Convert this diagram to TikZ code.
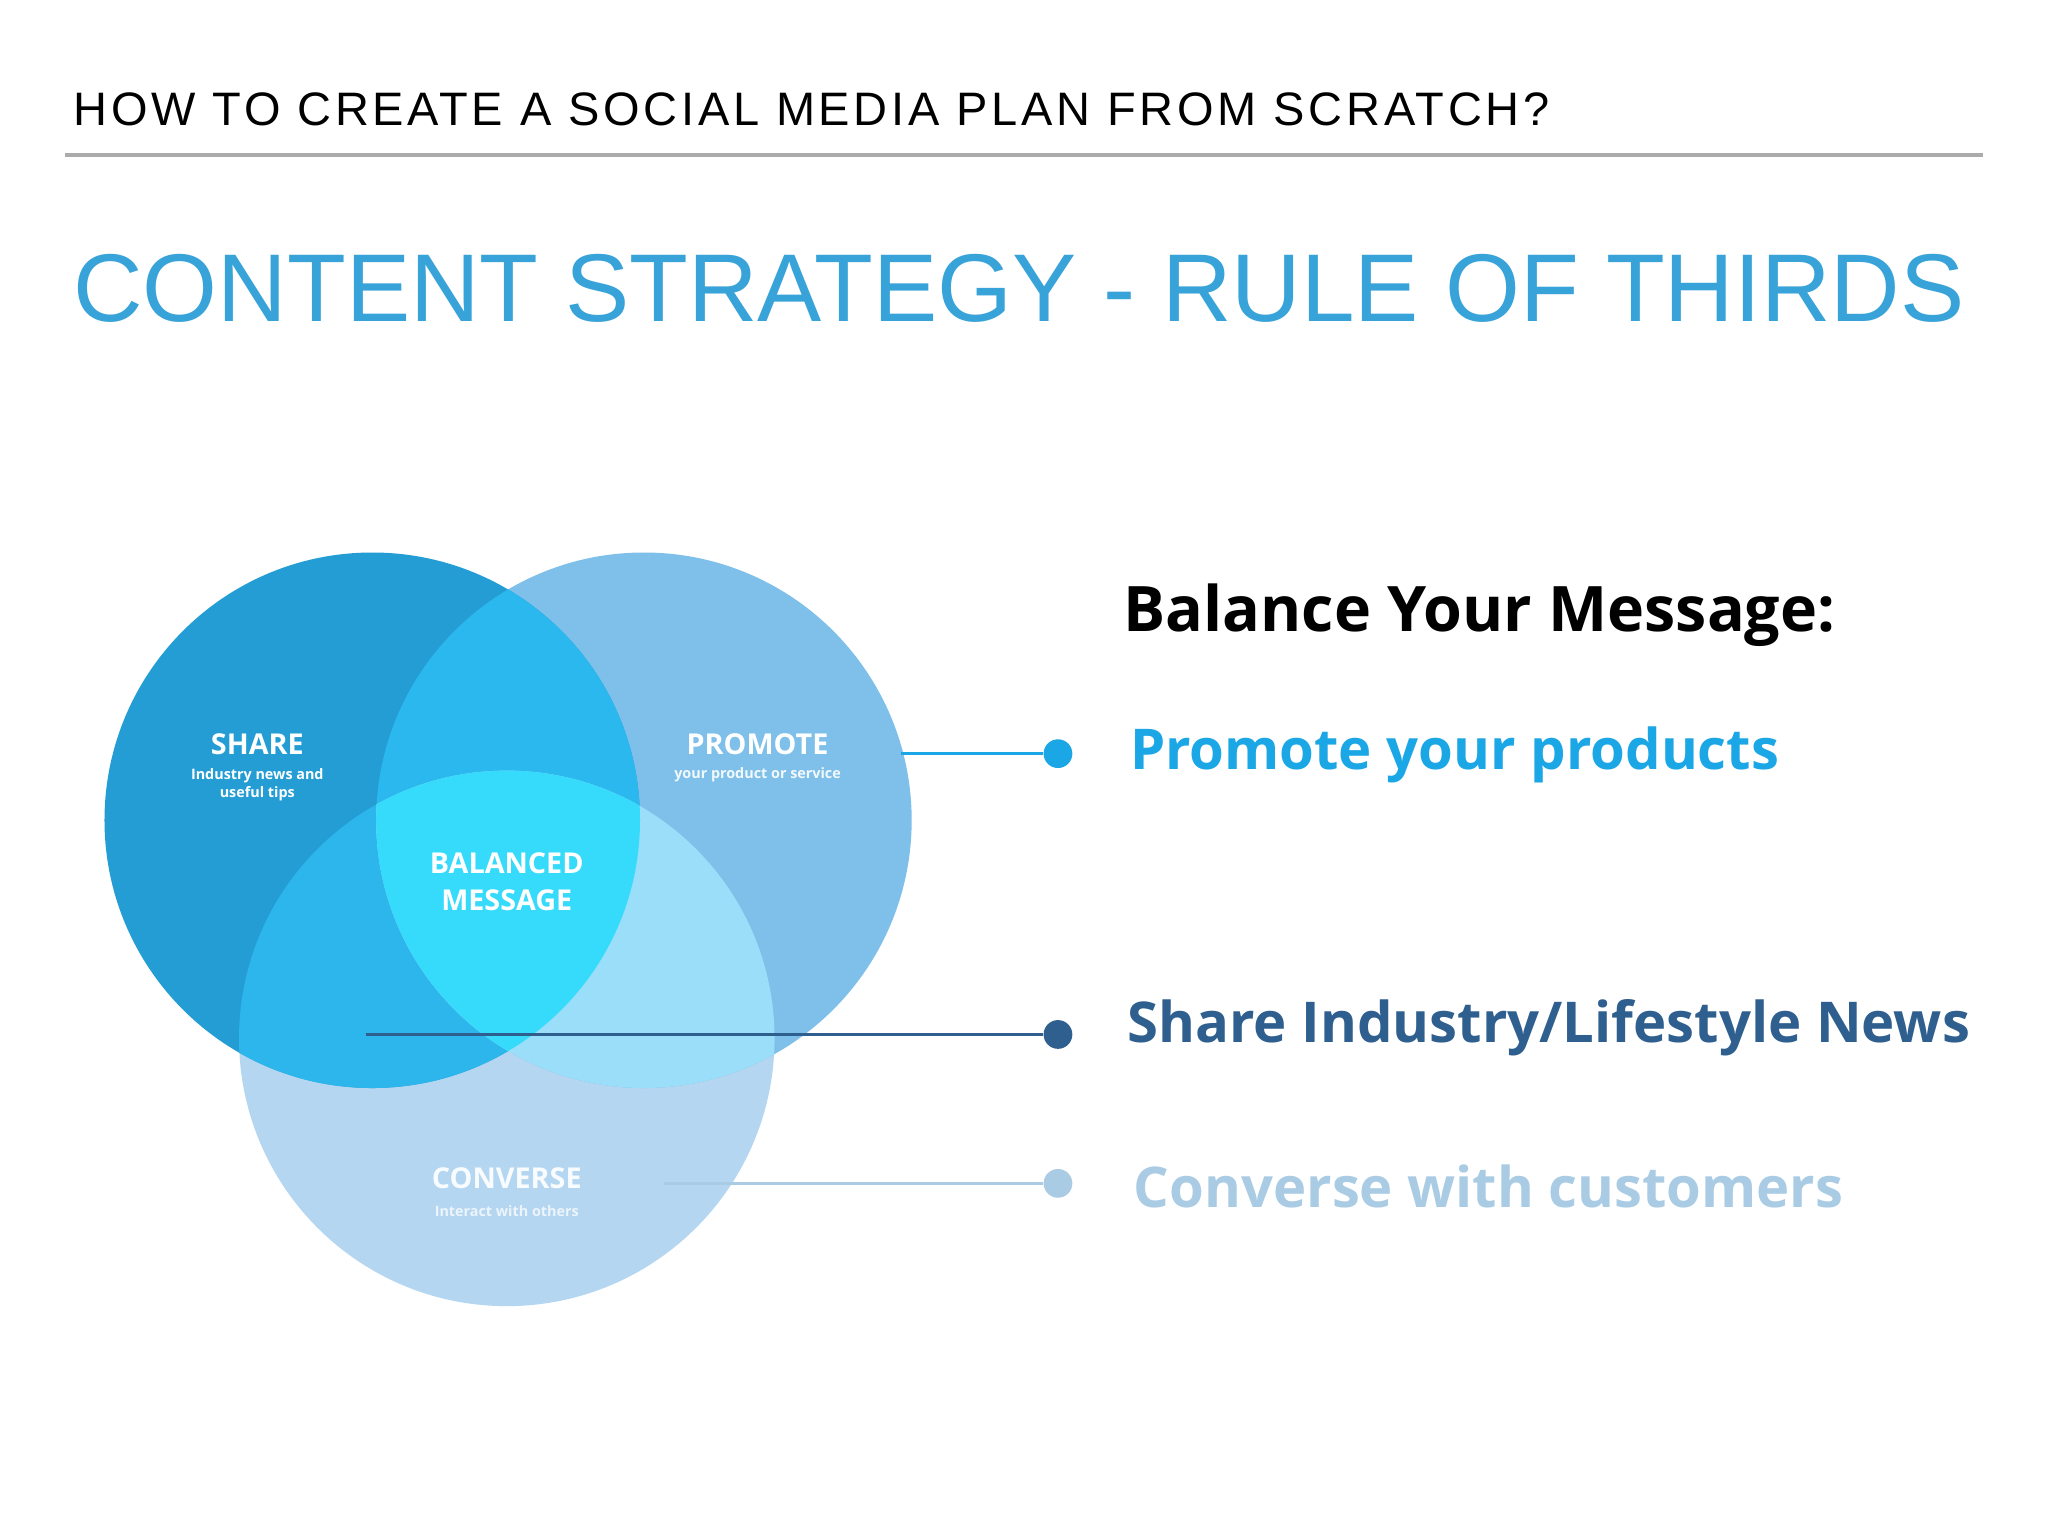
\documentclass[tikz,border=0pt]{standalone}
\usepackage{fontspec}
\setmainfont{Liberation Sans}
\newfontfamily\os{Open Sans}
\definecolor{cshare}{HTML}{249DD5}
\definecolor{cprom}{HTML}{7EC0EA}
\definecolor{cconv}{HTML}{B4D6F1}
\definecolor{csp}{HTML}{2AB8EE}
\definecolor{csc}{HTML}{2CB6EB}
\definecolor{cpc}{HTML}{9ADEF9}
\definecolor{cmid}{HTML}{36DBFB}
\definecolor{ttl}{HTML}{38A3D8}
\definecolor{lprom}{HTML}{1BA6E6}
\definecolor{lshare}{HTML}{2F5F8F}
\definecolor{lconv}{HTML}{A9CBE4}
\tikzset{ctext/.style={text=white,font=\os\bfseries,align=center,inner sep=0pt},
 rtext/.style={anchor=west,font=\os\bfseries,inner sep=0pt},
 dotc/.style={circle,inner sep=0pt,minimum size=22pt}}
\begin{document}
\begin{tikzpicture}[x=1pt,y=-1pt]
\useasboundingbox[fill=white] (0,0) rectangle (1568,1176);
\node[anchor=base west,inner sep=0pt] (hdr) at (56,96) {\resizebox{1130pt}{!}{\addfontfeatures{LetterSpace=8}HOW TO CREATE A SOCIAL MEDIA PLAN FROM SCRATCH?}};
\draw[line width=3pt,color=black!33] (50,119) -- (1518,119);
\node[anchor=base west,inner sep=0pt,text=ttl] (title) at (56,246) {\resizebox{1447pt}{!}{CONTENT STRATEGY - RULE OF THIRDS}};
% circles
\def\S{(285,628) circle (205)}
\def\P{(493,628) circle (205)}
\def\C{(388,795) circle (205)}
\fill[cconv] \C;
\fill[cprom] \P;
\fill[cshare] \S;
\begin{scope}\clip \S; \fill[csp] \P; \fill[csc] \C; \end{scope}
\begin{scope}\clip \P; \fill[cpc] \C; \end{scope}
\begin{scope}\clip \S; \clip \P; \fill[cmid] \C; \end{scope}
\node[ctext,font=\os\bfseries\fontsize{22}{24}\selectfont] (share) at (197,570) {SHARE};
\node[ctext,font=\os\bfseries\fontsize{11}{14}\selectfont] (sharesub) at (197,601) {Industry news and\\useful tips};
\node[ctext,font=\os\bfseries\fontsize{22}{24}\selectfont] (prom) at (580,570) {PROMOTE};
\node[ctext,font=\os\bfseries\fontsize{11}{14}\selectfont,text=white!90!cprom] (promsub) at (580,593) {your product or service};
\node[ctext,font=\os\bfseries\fontsize{22}{28}\selectfont] (bal) at (388,675) {BALANCED\\MESSAGE};
\node[ctext,font=\os\bfseries\fontsize{22}{24}\selectfont,text=white!92!cconv] (conv) at (388,902) {CONVERSE};
\node[ctext,font=\os\bfseries\fontsize{11}{14}\selectfont,text=white!75!cconv] (convsub) at (388,927) {Interact with others};
% connectors
\coordinate (p0) at (690,577); \coordinate (s0) at (280,792); \coordinate (c0) at (508,906);
\node[dotc,fill=lprom] (d1) at (810,577) {};
\node[dotc,fill=lshare] (d2) at (810,792) {};
\node[dotc,fill=lconv] (d3) at (810,906) {};
\draw[lprom,line width=2pt] (p0) -- (d1);
\draw[lshare,line width=2pt] (s0) -- (d2);
\draw[lconv,line width=2.5pt] (c0) -- (d3);
\node[rtext] (bym) at (860,471) {\resizebox{545pt}{!}{Balance Your Message:}};
\node[rtext,text=lprom] (t1) at (865,578) {\resizebox{497pt}{!}{Promote your products}};
\node[rtext,text=lshare] (t2) at (863,787) {\resizebox{645pt}{!}{Share Industry/Lifestyle News}};
\node[rtext,text=lconv] (t3) at (868,908) {\resizebox{543pt}{!}{Converse with customers}};
\end{tikzpicture}
\end{document}
